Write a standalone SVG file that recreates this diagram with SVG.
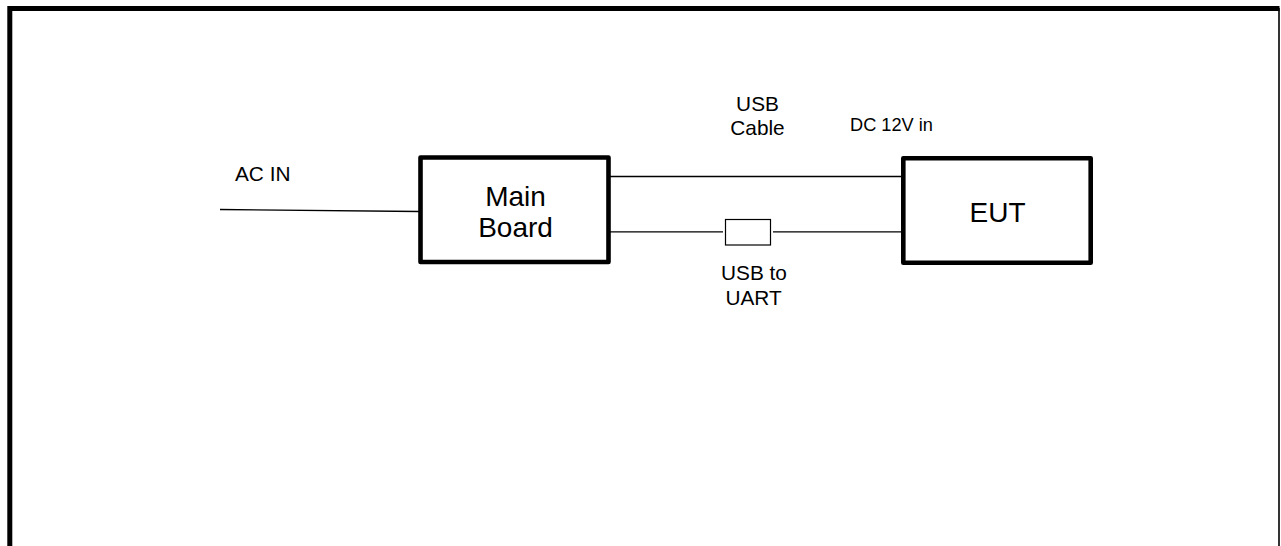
<svg xmlns="http://www.w3.org/2000/svg" width="1281" height="546" viewBox="0 0 1281 546">
<style>
text{font-family:"Liberation Sans",Arial,sans-serif;fill:#000}
.box{fill:#fff;stroke:#000;stroke-width:4.6;stroke-linejoin:round}
.wire{stroke:#000;stroke-width:1.3;fill:none}
.lbl{font-size:20.8px}
.big{font-size:28px}
</style>
<rect width="1281" height="546" fill="#fff"/>
<g id="frame">
<path d="M9.8 546 V8.6 H1279.5" fill="none" stroke="#000" stroke-width="5"/>
<line x1="1279" y1="8" x2="1279" y2="546" stroke="#000" stroke-width="1.6"/>
</g>
<g id="connectors">
<line class="wire" x1="220" y1="209.5" x2="419" y2="211.5"/>
<line class="wire" x1="610" y1="176.5" x2="902" y2="176.5"/>
<line class="wire" x1="610" y1="231.8" x2="723" y2="231.8"/>
<line class="wire" x1="773" y1="231.8" x2="902" y2="231.8"/>
</g>
<g id="ac-in"><text class="lbl" x="235" y="180.7">AC IN</text></g>
<g id="main-board">
<rect class="box" x="420.5" y="157.5" width="188" height="104.5"/>
<text class="big" x="515.5" y="205.7" text-anchor="middle">Main</text>
<text class="big" x="515.5" y="237" text-anchor="middle">Board</text>
</g>
<g id="eut">
<rect class="box" x="903.3" y="158.3" width="187.4" height="104.5"/>
<text class="big" x="997.5" y="221.7" text-anchor="middle">EUT</text>
</g>
<g id="usb-cable">
<text class="lbl" x="757.5" y="110.7" text-anchor="middle">USB</text>
<text class="lbl" x="757.5" y="135" text-anchor="middle">Cable</text>
</g>
<g id="dc-in"><text x="850" y="130.7" font-size="18.2">DC 12V in</text></g>
<g id="usb-uart">
<rect x="725.5" y="219.5" width="45" height="25.5" fill="#fff" stroke="#000" stroke-width="1.2"/>
<text class="lbl" x="754" y="280" text-anchor="middle">USB to</text>
<text class="lbl" x="753.5" y="305" text-anchor="middle">UART</text>
</g>
</svg>
